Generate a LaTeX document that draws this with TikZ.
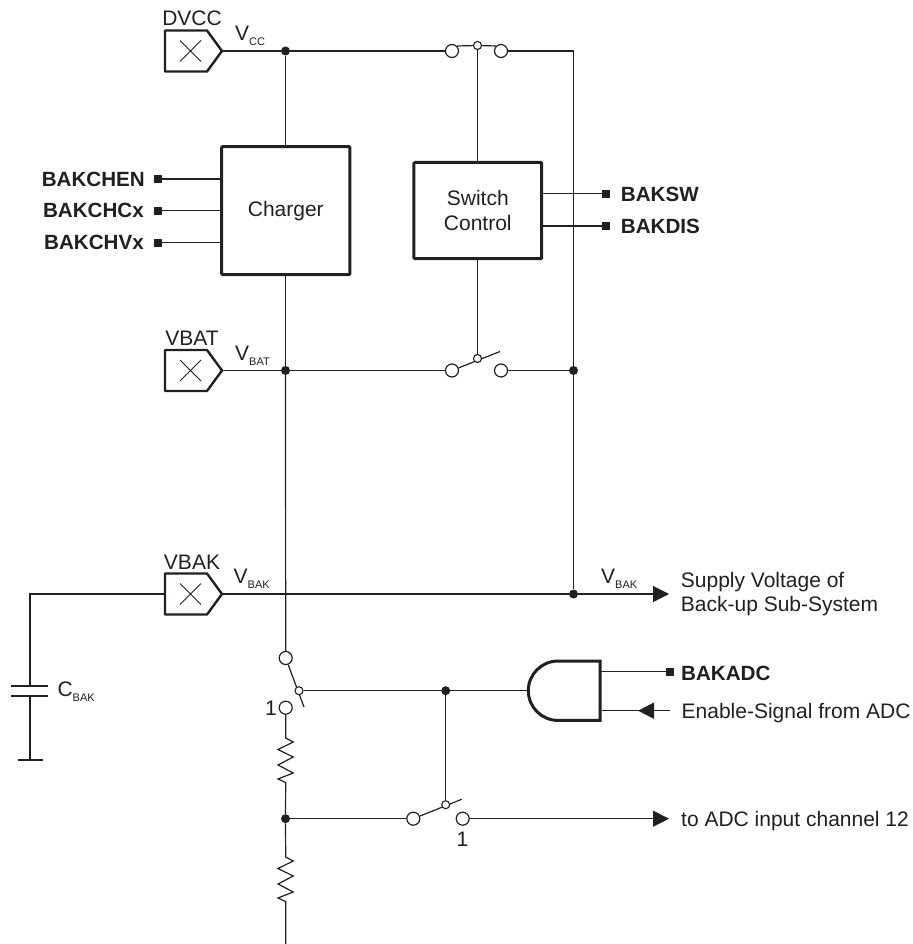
\documentclass[tikz,border=0pt]{standalone}
\usepackage{fontspec}
\setmainfont{Liberation Sans}
\usetikzlibrary{calc,arrows.meta}
\definecolor{ink}{HTML}{231F20}
\newcommand{\sm}[1]{\raisebox{-5pt}{\fontsize{11}{12}\selectfont #1}}
\newcommand{\pinshape}[2]{% name, tip y
  \coordinate (#1) at (222,#2);
  \coordinate (#1L) at (165,#2);
  \draw[pinline] (165,#2-20.5) -- (207,#2-20.5) -- (#1) -- (207,#2+20.5) -- (165,#2+20.5) -- cycle;
  \draw[thinx] (180,#2-10.5) -- (201,#2+10.5) (180,#2+10.5) -- (201,#2-10.5);
}
\newcommand{\resistor}[3]{% top, bottom names, y0
  \draw[wire] (#1) -- (285.7,#3) -- (293.2,#3+4) -- (278,#3+11.5) -- (293.2,#3+19) -- (278,#3+27) -- (293.2,#3+35) -- (278,#3+41) -- (285.7,#3+44.5) -- (#2);
}
\begin{document}
\begin{tikzpicture}[x=1pt,y=-1pt,
  wire/.style={line width=1.2pt,color=ink},
  pinline/.style={line width=2.4pt,color=ink,line join=round},
  thinx/.style={line width=0.8pt,color=ink},
  txt/.style={inner sep=0pt,text=ink,font=\fontsize{21}{25}\selectfont},
  btxt/.style={txt,font=\fontsize{20.6}{25}\selectfont\bfseries},
  boxn/.style={draw=ink,line width=3pt,rounded corners=1pt,minimum width=128.3pt,minimum height=127.8pt,inner sep=0pt,align=center,text=ink,font=\fontsize{21}{25}\selectfont},
  dot/.style={circle,fill=ink,draw=none,minimum size=9pt,inner sep=0pt},
  contact/.style={circle,draw=ink,fill=white,line width=1.2pt,minimum size=13pt,inner sep=0pt},
  pivot/.style={circle,draw=ink,fill=white,line width=1.1pt,minimum size=8pt,inner sep=0pt},
  term/.style={rectangle,fill=ink,minimum size=8pt,inner sep=0pt},
  tip/.style={-{Triangle[length=16pt,width=16pt]}}]
\useasboundingbox (0,0) rectangle (912,944);

% boxes
\node[boxn] (charger) at (285.8,210.6) {Charger};
\node[boxn,minimum width=127.8pt,minimum height=96.2pt] (sw) at (477.8,210.6) {Switch\\Control};

% pins
\pinshape{dvcc}{51}
\pinshape{vbat}{370.5}
\pinshape{vbak}{594}
\node[txt,anchor=base] (ldvcc) at (192,26) {DVCC};
\node[txt,anchor=base] (lvbat) at (192,345.5) {VBAT};
\node[txt,anchor=base] (lvbak) at (192,569) {VBAK};
\node[txt,anchor=base west] (lvcc) at (235,40.5) {V\sm{CC}};
\node[txt,anchor=base west] (lvb) at (235,360) {V\sm{BAT}};
\node[txt,anchor=base west] (lvk) at (233.5,583.5) {V\sm{BAK}};
\node[txt,anchor=base west] (lvk2) at (601,583) {V\sm{BAK}};

% junctions
\node[dot] (j1) at (285.5,51) {};
\node[dot] (j2) at (285.5,370.5) {};
\node[dot] (j3) at (573.5,370.5) {};
\node[dot] (j4) at (573.5,594) {};
\node[dot] (j5) at (445.7,690.7) {};
\node[dot] (j6) at (285.5,818.7) {};
\coordinate (cr) at (573.5,51);

% wires
\draw[wire] (dvcc) -- (j1);
\draw[wire] (j1) -- (charger.north -| j1);
\draw[wire] (charger.south -| j2) -- (j2);
\draw[wire] (vbat) -- (j2);

% top switch
\node[contact] (s1a) at (452,51) {};
\node[contact] (s1b) at (501,51) {};
\node[pivot] (s1p) at (477.5,45.5) {};
\draw[wire] (j1) -- (s1a);
\draw[wire] (s1a.north east) -- (s1p) -- (s1b.north west);
\draw[wire] (s1b) -- (cr) -- (j3);
\draw[wire] (s1p) -- (sw.north -| s1p);

% middle switch
\node[contact] (s2a) at (452,370.5) {};
\node[contact] (s2b) at (501,370.5) {};
\coordinate (s2e) at (500,351.5);
\draw[wire] (j2) -- (s2a);
\draw[wire] (s2a) -- (s2e);
\node[pivot] (s2p) at (477.5,358.5) {};
\draw[wire] (s2b) -- (j3);
\draw[wire] (sw.south -| s2p) -- (s2p);
\draw[wire] (j3) -- (j4);

% VBAK rail
\coordinate (vo) at (669,594);
\draw[wire] (vbak) -- (j4);
\draw[wire,tip] (j4) -- (vo);
\node[txt,anchor=base west] (sup) at (680.7,587.7) {Supply Voltage of};
\node[txt,anchor=base west] (sup2) at (680.7,611.7) {Back-up Sub-System};

% capacitor
\coordinate (c0) at (30,594);
\coordinate (ct) at (30,686);
\coordinate (cb) at (30,696);
\coordinate (gnd) at (30,760);
\draw[wire] (vbakL) -- (c0) -- (ct);
\draw[wire] (cb) -- (gnd);
\draw[wire] (11,686) -- (48,686);
\draw[wire] (11,696) -- (48,696);
\draw[wire] (18,760) -- (43,760);
\node[txt,anchor=base west] (cbak) at (57.3,696) {C\sm{BAK}};

% lower left switch
\node[contact] (s3a) at (285.7,658) {};
\node[contact] (s3b) at (285.7,707.7) {};
\coordinate (s3e) at (304,707);
\draw[wire] (j2) -- (s3a);
\draw[wire] (s3a) -- (s3e);
\node[pivot] (s3p) at (299,690.7) {};
\node[txt,anchor=base east] (l1a) at (277,715) {1};
\resistor{s3b}{j6}{738}
\coordinate (bot) at (285.7,944);
\resistor{j6}{bot}{857}
\draw[wire] (s3p) -- (j5);

% AND gate
\coordinate (gi) at (528,690.7);
\draw[line width=3pt,color=ink,fill=white,line join=miter] (600,661) -- (558,661) arc[start angle=90,end angle=270,radius=29.7pt,y=1pt] -- (600,720.4) -- cycle;
\draw[wire] (j5) -- (gi);
\node[term] (tadc) at (670,671.7) {};
\draw[wire] (600,671.7) -- (tadc);
\node[btxt,anchor=base west] (ladc) at (681,680) {BAKADC};
\coordinate (en) at (670,710.7);
\coordinate (gen) at (601.5,710.7);
\draw[wire] (en) -- (gen);
\draw[wire,tip] (en) -- (638,710.7);
\node[txt,anchor=base west] (len) at (681.5,718.3) {Enable-Signal from ADC};

% lower switch
\node[contact] (s4a) at (413.3,818.7) {};
\node[contact] (s4b) at (462.7,818.7) {};
\coordinate (s4e) at (461.7,799.3);
\draw[wire] (j6) -- (s4a);
\draw[wire] (s4a) -- (s4e);
\node[pivot] (s4p) at (445.7,804.7) {};
\draw[wire] (j5) -- (s4p);
\coordinate (ao) at (669,818.7);
\draw[wire,tip] (s4b) -- (ao);
\node[txt,anchor=base west] (lto) at (681,826) {to ADC input channel 12};
\node[txt,anchor=base] (l1b) at (462.5,846) {1};

% control terminals
\node[term] (t1) at (158,179) {};
\node[term] (t2) at (158,210.7) {};
\node[term] (t3) at (158,242.7) {};
\draw[wire] (t1) -- (t1 -| charger.west);
\draw[wire] (t2) -- (t2 -| charger.west);
\draw[wire] (t3) -- (t3 -| charger.west);
\node[btxt,anchor=base east] (l1) at (145,186) {BAKCHEN};
\node[btxt,anchor=base east] (l2) at (144,217.5) {BAKCHCx};
\node[btxt,anchor=base east] (l3) at (144,249.5) {BAKCHVx};
\node[term] (t4) at (606,193.7) {};
\node[term] (t5) at (606,226) {};
\draw[wire] (t4 -| sw.east) -- (t4);
\draw[wire] (t5 -| sw.east) -- (t5);
\node[btxt,anchor=base west] (l4) at (620.7,201.5) {BAKSW};
\node[btxt,anchor=base west] (l5) at (620.7,233.5) {BAKDIS};
\end{tikzpicture}
\end{document}
